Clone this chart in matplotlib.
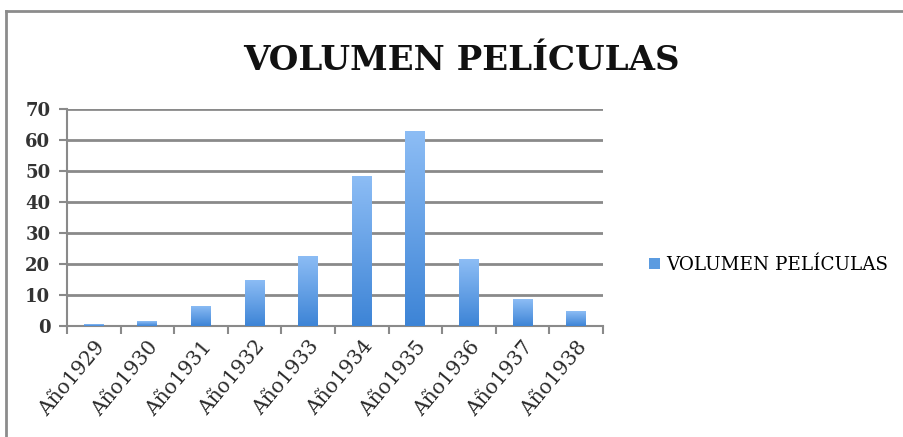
import matplotlib
matplotlib.use('Agg')
import matplotlib.pyplot as plt
import numpy as np
from matplotlib.lines import Line2D
from matplotlib.patches import Patch

# datos
anios = ['Año1929', 'Año1930', 'Año1931', 'Año1932', 'Año1933',
         'Año1934', 'Año1935', 'Año1936', 'Año1937', 'Año1938']
volumen = [0.5, 1.5, 6.5, 15, 22.7, 48.5, 62.8, 21.5, 8.7, 4.8]
serie = 'VOLUMEN PELÍCULAS'

plt.rcParams['font.family'] = ['DejaVu Serif']

fig = plt.figure(figsize=(9.04, 4.37), dpi=100)
fig.patch.set_facecolor('white')
ax = fig.add_axes([67 / 904, 1 - 326 / 437, (603 - 67) / 904, (326 - 109) / 437])

x = np.arange(len(anios))
bars = ax.bar(x, volumen, width=0.37, color='#5b9be0', zorder=3)

# degradado vertical dentro de cada barra
grad = np.linspace(0, 1, 256).reshape(-1, 1)
cmap = matplotlib.colors.LinearSegmentedColormap.from_list('azul', ['#3d84d6', '#8dbdf5'])
for b in bars:
    x0, y0 = b.get_x(), b.get_y()
    w, h = b.get_width(), b.get_height()
    im = ax.imshow(grad, cmap=cmap, aspect='auto', origin='lower',
                   extent=[x0, x0 + w, y0, y0 + h], zorder=4)
    im.set_clip_path(b)

ax.set_xlim(-0.5, len(anios) - 0.5)
ax.set_ylim(0, 70)
ax.set_yticks(range(0, 71, 10))
ax.yaxis.grid(True, color='#8a8a8a', linewidth=2, zorder=1)
ax.set_axisbelow(True)

ax.set_xticks(np.arange(-0.5, len(anios), 1.0))
ax.set_xticklabels([])
ax.set_xticks(x, minor=True)
ax.set_xticklabels(anios, minor=True, rotation=50, ha='right', va='top',
                   rotation_mode='anchor', fontsize=14.5, color='#2a2a2a')
ax.tick_params(axis='x', which='minor', length=0, pad=8)
ax.tick_params(axis='x', which='major', length=6, width=1.5, color='#8a8a8a', direction='out')
ax.tick_params(axis='y', length=6, width=1.5, color='#8a8a8a', labelsize=13,
               labelcolor='#333333', pad=6)
for lbl in ax.get_yticklabels():
    lbl.set_fontweight('bold')

for s in ['top', 'right']:
    ax.spines[s].set_visible(False)
ax.spines['left'].set_color('#8a8a8a')
ax.spines['left'].set_linewidth(1.5)
ax.spines['bottom'].set_color('#8a8a8a')
ax.spines['bottom'].set_linewidth(1.5)

fig.text(461 / 904, 1 - 60 / 437, serie, ha='center', va='center',
         fontsize=24.5, fontweight='bold', color='#111111')

fig.legend(handles=[Patch(facecolor='#5b9be0', edgecolor='none', label=serie)],
           loc='center left', bbox_to_anchor=(633 / 904, 1 - 265 / 437),
           frameon=False, handlelength=0.6, handleheight=0.6, handletextpad=0.3,
           prop={'size': 13.2})

# marco del grafico
fig.add_artist(Line2D([6 / 904, 1], [1 - 11 / 437] * 2, transform=fig.transFigure,
                      color='#8c8c8c', linewidth=2))
fig.add_artist(Line2D([6 / 904] * 2, [0, 1 - 11 / 437], transform=fig.transFigure,
                      color='#8c8c8c', linewidth=2))

fig.savefig('out.png', dpi=100)
